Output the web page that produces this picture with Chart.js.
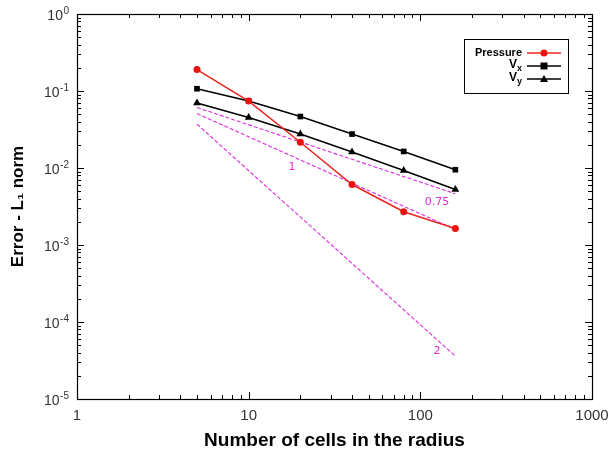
<!DOCTYPE html>
<html>
<head>
<meta charset="utf-8">
<script src="https://cdn.jsdelivr.net/npm/chart.js@4"></script>
<style>
  body { margin: 0; background: #fff; }
  #wrap { width: 616px; height: 452px; position: relative; }
</style>
</head>
<body>
<div id="wrap"><canvas id="chart"></canvas></div>
<script>
// grid sizes (number of cells in the radius)
const cells = [5, 10, 20, 40, 80, 160];
// L1 errors
const pressure = [0.19, 0.074, 0.0216, 0.0061, 0.0027, 0.00164];
const vx = [0.107, 0.0743, 0.0466, 0.0276, 0.0164, 0.0095];
const vy = [0.070, 0.0452, 0.0276, 0.0161, 0.0093, 0.00526];
// reference slopes (start/end at x = 5 and x = 160)
const refX = [5, 160];
const slope075 = [0.061, 0.00463];
const slope1 = [0.0509, 0.00159];
const slope2 = [0.037, 0.000036];
const slopeLabels = ['1', '0.75', '2'];
const slopeLabelPos = [[17.9, 0.0102], [125, 0.0036], [125, 0.000042]];
const xTickLabels = ['1', '10', '100', '1000'];
const yTickExp = ['0', '-1', '-2', '-3', '-4', '-5'];

const magenta = '#dd2bdd';
const pts = (xs, ys) => xs.map((x, i) => ({ x: x, y: ys[i] }));

function logTicks(min, max) {
  const out = [];
  for (let e = Math.round(Math.log10(min)); e < Math.round(Math.log10(max)); e++) {
    for (let m = 1; m < 10; m++) out.push(m * Math.pow(10, e));
  }
  out.push(max);
  return out;
}
const isDecade = v => Math.abs(Math.log10(v) - Math.round(Math.log10(v))) < 1e-9;

const frameTicks = {
  id: 'frameTicks',
  beforeDatasetsDraw(chart) {
    const c = chart.ctx, a = chart.chartArea;
    const xs = chart.scales.x, ys = chart.scales.y;
    c.save();
    c.strokeStyle = '#000';
    c.lineWidth = 1;
    c.beginPath();
    xs.ticks.forEach(t => {
      const px = Math.round(xs.getPixelForValue(t.value)) + 0.5;
      const len = isDecade(t.value) ? 7 : 4;
      c.moveTo(px, a.bottom); c.lineTo(px, a.bottom - len);
      c.moveTo(px, a.top); c.lineTo(px, a.top + len);
    });
    ys.ticks.forEach(t => {
      const py = Math.round(ys.getPixelForValue(t.value)) + 0.5;
      const len = isDecade(t.value) ? 7 : 4;
      c.moveTo(a.left, py); c.lineTo(a.left + len, py);
      c.moveTo(a.right, py); c.lineTo(a.right - len, py);
    });
    c.stroke();
    c.lineWidth = 1.2;
    c.strokeRect(Math.round(a.left) + 0.5, Math.round(a.top) + 0.5,
      Math.round(a.right - a.left), Math.round(a.bottom - a.top));

    // y tick labels: 10 with a raised exponent
    c.fillStyle = '#333';
    c.textBaseline = 'alphabetic';
    c.textAlign = 'right';
    ys.ticks.forEach(t => {
      if (!isDecade(t.value)) return;
      const py = ys.getPixelForValue(t.value);
      const exp = yTickExp[-Math.round(Math.log10(t.value))];
      c.font = '10px "Liberation Sans"';
      const ew = c.measureText(exp).width;
      const xr = a.left - 8;
      c.fillText(exp, xr, py + 0);
      c.font = '14px "Liberation Sans"';
      c.fillText('10', xr - ew - 0.5, py + 6);
    });
    c.restore();
  },
  afterDraw(chart) {
    const c = chart.ctx;
    const xs = chart.scales.x, ys = chart.scales.y;
    c.save();
    // slope annotations
    c.fillStyle = magenta;
    c.font = '11px "DejaVu Sans"';
    c.textAlign = 'center';
    c.textBaseline = 'middle';
    slopeLabels.forEach((s, i) => {
      c.fillText(s, xs.getPixelForValue(slopeLabelPos[i][0]), ys.getPixelForValue(slopeLabelPos[i][1]));
    });
    // legend box
    const bx = 464, by = 39, bw = 104, bh = 54;
    c.strokeStyle = '#000';
    c.lineWidth = 1;
    c.strokeRect(bx + 0.5, by + 0.5, bw, bh);
    const rows = [53, 66, 79];
    const textRight = 522, l0 = 527, l1 = 561, mx = 544;
    chart.data.datasets.slice(0, 3).forEach((ds, i) => {
      const y = rows[i];
      c.fillStyle = '#000';
      c.textBaseline = 'middle';
      c.textAlign = 'right';
      if (i === 0) {
        c.font = 'bold 11px "Liberation Sans"';
        c.fillText(ds.label, textRight, y);
      } else {
        const sub = ds.label.slice(2);
        c.font = 'bold 9px "Liberation Sans"';
        const sw = c.measureText(sub).width;
        c.fillText(sub, textRight, y + 3);
        c.font = 'bold 12px "Liberation Sans"';
        c.fillText('V', textRight - sw, y - 1);
      }
      c.strokeStyle = ds.borderColor;
      c.lineWidth = 1.5;
      c.beginPath(); c.moveTo(l0, y); c.lineTo(l1, y); c.stroke();
      c.fillStyle = ds.pointBackgroundColor;
      c.beginPath();
      if (ds.pointStyle === 'circle') c.arc(mx, y, 3.5, 0, Math.PI * 2);
      else if (ds.pointStyle === 'rect') c.rect(mx - 3.5, y - 3.5, 7, 7);
      else { c.moveTo(mx, y - 4); c.lineTo(mx + 4, y + 3); c.lineTo(mx - 4, y + 3); c.closePath(); }
      c.fill();
    });
    c.restore();
  }
};

const refStyle = {
  borderColor: magenta, borderWidth: 1.1, borderDash: [4, 2],
  pointRadius: 0, fill: false
};

new Chart(document.getElementById('chart'), {
  type: 'line',
  data: {
    datasets: [
      { label: 'Pressure', data: pts(cells, pressure), borderColor: '#e8251f', borderWidth: 1.5,
        pointStyle: 'circle', pointRadius: 3.5, pointBackgroundColor: '#f01010', pointBorderWidth: 0, order: 0 },
      { label: 'V_x', data: pts(cells, vx), borderColor: '#000', borderWidth: 1.5,
        pointStyle: 'rect', pointRadius: 4, pointBackgroundColor: '#000', pointBorderWidth: 0, order: 1 },
      { label: 'V_y', data: pts(cells, vy), borderColor: '#000', borderWidth: 1.5,
        pointStyle: 'triangle', pointRadius: 4.5, pointBackgroundColor: '#000', pointBorderWidth: 0, order: 2 },
      Object.assign({ label: 'slope 0.75', data: pts(refX, slope075), order: 3 }, refStyle),
      Object.assign({ label: 'slope 1', data: pts(refX, slope1), order: 4 }, refStyle),
      Object.assign({ label: 'slope 2', data: pts(refX, slope2), order: 5 }, refStyle)
    ]
  },
  options: {
    responsive: true,
    maintainAspectRatio: false,
    animation: false,
    parsing: false,
    layout: { padding: { top: 14, right: 24, left: 0, bottom: 0 } },
    plugins: { legend: { display: false }, tooltip: { enabled: false } },
    scales: {
      x: {
        type: 'logarithmic', min: 1, max: 1000,
        grid: { display: false }, border: { display: false },
        afterBuildTicks: s => { s.ticks = logTicks(1, 1000).map(v => ({ value: v })); },
        afterFit: s => { s.height = 53; },
        ticks: {
          autoSkip: false, maxRotation: 0, padding: 0, color: '#333',
          font: { family: 'Liberation Sans', size: 15 },
          callback: v => isDecade(v) ? xTickLabels[Math.round(Math.log10(v))] : ''
        },
        title: { display: true, text: 'Number of cells in the radius', color: '#000',
          font: { family: 'Liberation Sans', size: 19, weight: 'bold' }, padding: { top: 1, bottom: 0 } }
      },
      y: {
        type: 'logarithmic', min: 1e-5, max: 1,
        grid: { display: false }, border: { display: false },
        afterBuildTicks: s => { s.ticks = logTicks(1e-5, 1).map(v => ({ value: v })); },
        afterFit: s => { s.width = 77; },
        ticks: { display: false, autoSkip: false },
        title: { display: true, text: 'Error - L\u2081 norm', color: '#000',
          font: { family: 'Liberation Sans', size: 17, weight: 'bold' }, padding: { top: 8, bottom: 0 } }
      }
    }
  },
  plugins: [frameTicks]
});
</script>
</body>
</html>
